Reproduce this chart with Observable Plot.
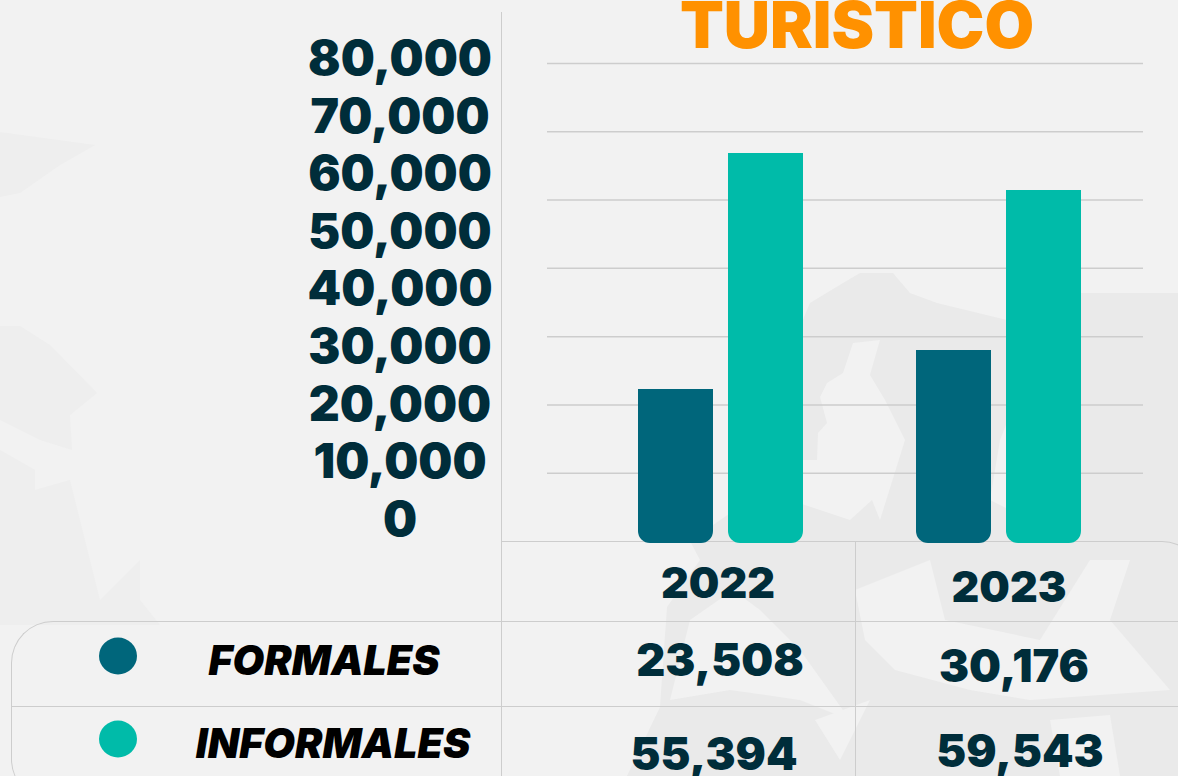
<!DOCTYPE html>
<html><head><meta charset="utf-8">
<script src="https://cdn.jsdelivr.net/npm/d3@7"></script>
<script src="https://cdn.jsdelivr.net/npm/@observablehq/plot@0.6"></script>
<style>
html,body{margin:0;padding:0;background:#f2f2f2;}
#stage{position:relative;width:1178px;height:776px;overflow:hidden;background:#f2f2f2;font-family:Inter,"Noto Sans",sans-serif;font-weight:900;color:#002d3a;}
#stage svg{position:absolute;left:0;top:0;background:transparent;overflow:visible;}
.line{position:absolute;border:0 solid #cdcdcd;box-sizing:border-box;}
.cell{position:absolute;transform:translate(-50%,-50%);white-space:nowrap;line-height:1;}
.dot{position:absolute;width:38px;height:37px;border-radius:50%;transform:translate(-50%,-50%);}
</style></head><body><div id="stage">
<svg width="1178" height="776" aria-hidden="true">
  <g fill="#eaeaea">
    <polygon points="767,383 793,343 810,303 843,283 860,273 893,273 910,293 937,303 1007,320 1027,303 1082,293 1178,293 1178,776 627,776 660,707 667,607 700,560 690,541 762,491 762,420"/>
  </g>
  <g fill="#f2f2f2">
    <polygon points="765,440 780,423 793,460 817,460 818,433 827,423 820,397 827,383 843,373 853,343 880,340 870,375 885,400 905,440 880,520 872,500 850,520 760,490"/>
    <polygon points="690,620 733,590 760,610 800,650 850,720 800,700 730,690 670,700"/>
    <polygon points="855,590 930,560 945,620 1040,640 1090,560 1130,560 1110,620 1170,690 1030,700 970,690 895,670 865,640"/>
    <polygon points="990,500 1000,440 1020,390 1050,420 1045,480 1030,520"/>
    <polygon points="815,720 870,700 840,760"/>
    <polygon points="1050,720 1110,715 1120,776 1060,776"/>
  </g>
  <g fill="#eeeeee">
    <polygon points="0,132 95,145 60,165 20,193 0,197"/>
    <polygon points="0,326 20,326 50,345 97,393 70,415 72,450 40,440 0,420"/>
    <polygon points="0,450 35,470 35,490 70,480 100,600 140,560 140,600 160,625 0,625"/>
  </g>
</svg>
<div class="line" style="left:501px;top:12px;width:2px;height:764px;border-left-width:1.5px"></div>
<div class="line" style="left:502px;top:541px;width:700px;height:300px;border-top-width:1.5px;border-right-width:1.5px;border-top-right-radius:40px"></div>
<div class="line" style="left:855px;top:541px;width:1px;height:235px;border-left-width:1px"></div>
<div class="line" style="left:11px;top:621px;width:1200px;height:180px;border-top-width:1.5px;border-left-width:1.5px;border-top-left-radius:42px;border-bottom-left-radius:42px"></div>
<div class="line" style="left:11px;top:706px;width:1200px;height:1px;border-top-width:1.5px"></div>
</div>
<script>
const seriesNames = ["FORMALES", "INFORMALES"];
const seriesColors = ["#00667b", "#00bba9"];
const years = ["2022", "2023"];
const formalBars = [22260, 27970];
const informalBars = [56820, 51400];
const formalLabels = ["23,508", "30,176"];
const informalLabels = ["55,394", "59,543"];
const gridTicks = [10000, 20000, 30000, 40000, 50000, 60000, 70000];
const axisTicks = [0, 10000, 20000, 30000, 40000, 50000, 60000, 70000, 80000];
const title = "TURISTICO";

const stage = document.getElementById("stage");
const bars = years.flatMap((year, i) => [
  {year, series: seriesNames[0], value: formalBars[i]},
  {year, series: seriesNames[1], value: informalBars[i]}
]);

const gridPlot = Plot.plot({
  width: 1178, height: 776,
  marginLeft: 547, marginRight: 35, marginTop: 63, marginBottom: 235,
  style: {background: "transparent"},
  y: {domain: [0, 70000], axis: null, label: null},
  marks: [Plot.ruleY(gridTicks, {stroke: "#cdcdcd", strokeWidth: 1.5, strokeOpacity: 1})]
});
stage.appendChild(gridPlot);

const barPlot = Plot.plot({
  width: 1178, height: 776,
  marginLeft: 547, marginRight: 35, marginTop: 63, marginBottom: 235,
  style: {background: "transparent"},
  fx: {domain: years, range: [580.5, 1136.5], padding: 0, axis: null},
  x: {domain: seriesNames, paddingInner: 0.171, paddingOuter: 0.62, axis: null, label: null},
  y: {domain: [0, 70000], axis: null, label: null},
  color: {domain: seriesNames, range: seriesColors},
  marks: [
    Plot.barY(bars, {fx: "year", x: "series", y: "value", fill: "series", ry2: 12, rx: 12, insetBottom: -2})
  ]
});
stage.appendChild(barPlot);

const axisPlot = Plot.plot({
  width: 1178, height: 776, marginLeft: 0, marginRight: 0, marginTop: 59, marginBottom: 256,
  style: {background: "transparent"},
  x: {axis: null},
  y: {domain: [0, 80000], axis: null, label: null},
  marks: [
    Plot.text(axisTicks, {y: d => d, text: d => d3.format(",")(d), frameAnchor: "left", dx: 399.5, textAnchor: "middle",
      fontSize: 48, fontWeight: 900, fontFamily: "Inter", fill: "#002d3a"})
  ]
});
stage.appendChild(axisPlot);

function cell(text, x, y, size, extra = {}) {
  const el = document.createElement("div");
  el.className = "cell";
  el.textContent = text;
  Object.assign(el.style, {left: x + "px", top: y + "px", fontSize: size + "px"}, extra);
  stage.appendChild(el);
}
function dot(color, x, y) {
  const el = document.createElement("div");
  el.className = "dot";
  Object.assign(el.style, {left: x + "px", top: y + "px", background: color});
  stage.appendChild(el);
}
cell(title, 857, 25, 64, {color: "#ff9100"});
cell(years[0], 718, 582, 43);
cell(years[1], 1009, 586, 43);
cell(formalLabels[0], 720, 659, 45);
cell(formalLabels[1], 1014, 665, 45);
cell(informalLabels[0], 714, 753, 45);
cell(informalLabels[1], 1020, 750, 45);
cell(seriesNames[0], 324, 660, 41, {color: "#000", fontStyle: "italic"});
cell(seriesNames[1], 333, 743, 41, {color: "#000", fontStyle: "italic"});
dot(seriesColors[0], 118, 656);
dot(seriesColors[1], 118, 739);
</script></body></html>
